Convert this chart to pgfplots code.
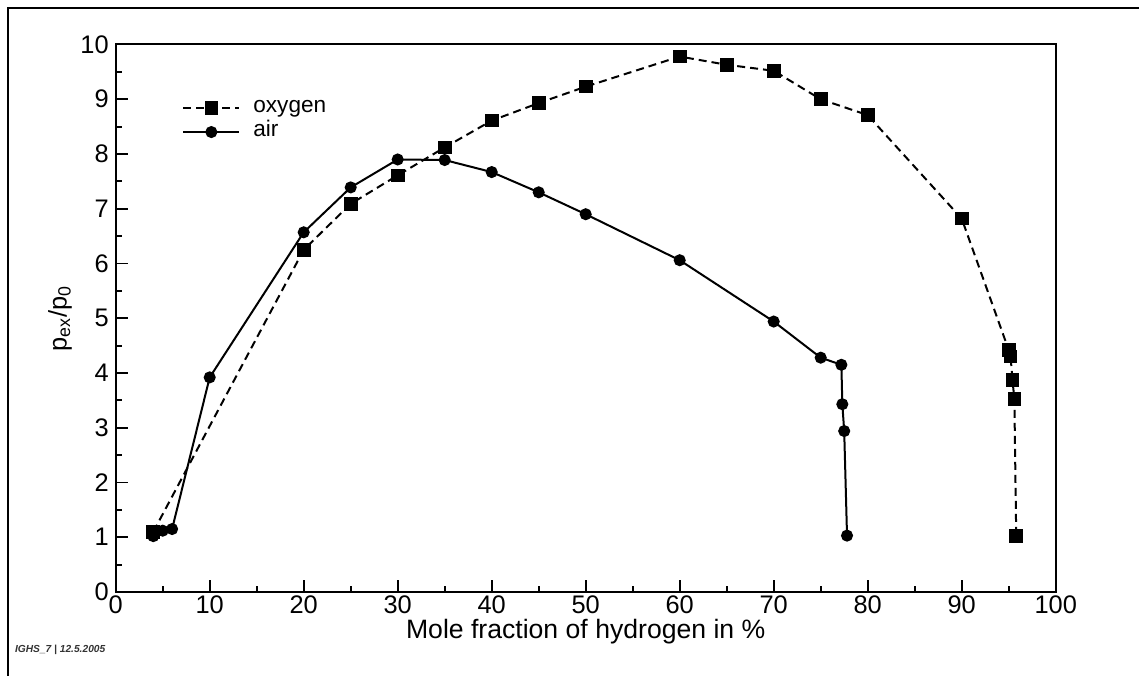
\documentclass[border=0pt]{standalone}
\usepackage{fontspec}
\setmainfont{Liberation Sans}
\usepackage{pgfplots}
\pgfplotsset{compat=1.18}
\begin{document}
\begin{tikzpicture}
\useasboundingbox (-57.85pt,-41.5pt) rectangle (511.65pt,296pt);
\draw[line width=1pt] (-53.85pt,-45pt) -- (-53.85pt,292pt) -- (520pt,292pt);
\node[anchor=west, font=\fontsize{5.1}{6}\selectfont\itshape\bfseries, text=black!80, inner sep=0pt] at (-50.5pt,-29pt) {IGHS\_7 | 12.5.2005};
\begin{axis}[
  at={(0,0)}, anchor=south west,
  width=470pt, height=273.75pt, scale only axis,
  xmin=0, xmax=100, ymin=0, ymax=10,
  xtick={0,10,...,100}, ytick={0,1,...,10},
  minor x tick num=1, minor y tick num=1,
  tick align=inside, tick pos=left,
  major tick length=6pt, minor tick length=3pt,
  axis line style={line width=1pt},
  every tick/.style={black, line width=0.9pt},
  /pgf/number format/assume math mode=true,
  tick label style={font=\fontsize{12.7}{14}\selectfont},
  xticklabel style={inner sep=1.5pt},
  xlabel={Mole fraction of hydrogen in \%},
  ylabel={p\textsubscript{ex}/p\textsubscript{0}},
  xlabel style={font=\fontsize{13.3}{15}\selectfont, at={(axis description cs:0.5,0)}, anchor=center, yshift=-20pt},
  ylabel style={font=\fontsize{12.7}{15}\selectfont, at={(axis description cs:-0.0593,0.5)}, anchor=center},
  legend style={draw=none, fill=none, at={(axis cs:7.05,8.62)}, anchor=west,
    inner sep=0pt, font=\fontsize{11.3}{13}\selectfont,
    nodes={inner sep=0pt, text height=8pt, text depth=4pt},
    column sep=6.5pt},
  legend cell align=left,
  legend image code/.code={\draw[mark repeat=2, mark phase=2, #1] plot coordinates {(0pt,0pt) (14pt,0pt) (28pt,0pt)};},
]
\addplot[black, line width=1pt, dash pattern=on 4pt off 2.5pt, mark=square*, mark size=2.9pt, mark options={solid}] coordinates {
(4,1.1) (20,6.25) (25,7.09) (30,7.61) (35,8.12) (40,8.61) (45,8.93) (50,9.23) (60,9.78) (65,9.63) (70,9.52) (75,9.0) (80,8.71) (90,6.82) (95,4.42) (95.2,4.3) (95.4,3.87) (95.6,3.53) (95.8,1.02)
};
\addlegendentry{oxygen}
\addplot[black, line width=1pt, mark=*, mark size=2.5pt] coordinates {
(4,1.02) (5,1.12) (6,1.15) (10,3.92) (20,6.57) (25,7.39) (30,7.9) (35,7.89) (40,7.67) (45,7.3) (50,6.9) (60,6.06) (70,4.94) (75,4.28) (77.2,4.15) (77.3,3.43) (77.5,2.94) (77.8,1.03)
};
\addlegendentry{air}
\end{axis}
\end{tikzpicture}
\end{document}
